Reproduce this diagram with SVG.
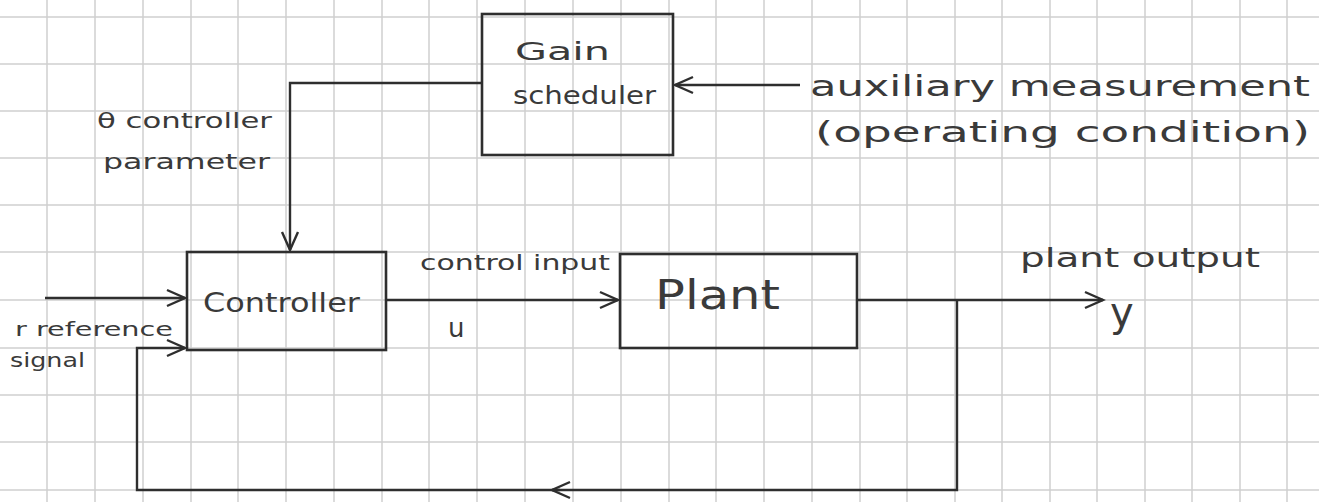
<svg xmlns="http://www.w3.org/2000/svg" width="1319" height="502" viewBox="0 0 1319 502">
<style>
.grid line{stroke:#cfcfcf;stroke-width:1.5}
.box{fill:none;stroke:#2e2e2e;stroke-width:2.6}
.wire{fill:none;stroke:#2e2e2e;stroke-width:2.4}
text{font-family:"DejaVu Sans","Liberation Sans",sans-serif;fill:#3a3a3a}
</style>
<defs>
<marker id="ah" markerUnits="userSpaceOnUse" markerWidth="30" markerHeight="24" refX="20" refY="10" orient="auto">
<path d="M2,2 L20,10 L2,18" fill="none" stroke="#2e2e2e" stroke-width="2.4"/>
</marker>
</defs>
<rect width="1319" height="502" fill="#ffffff"/>
<g class="grid">
<line x1="47" y1="0" x2="47" y2="502"/><line x1="95" y1="0" x2="95" y2="502"/><line x1="143" y1="0" x2="143" y2="502"/><line x1="191" y1="0" x2="191" y2="502"/><line x1="238" y1="0" x2="238" y2="502"/><line x1="286" y1="0" x2="286" y2="502"/><line x1="334" y1="0" x2="334" y2="502"/><line x1="382" y1="0" x2="382" y2="502"/><line x1="429" y1="0" x2="429" y2="502"/><line x1="477" y1="0" x2="477" y2="502"/><line x1="525" y1="0" x2="525" y2="502"/><line x1="573" y1="0" x2="573" y2="502"/><line x1="621" y1="0" x2="621" y2="502"/><line x1="669" y1="0" x2="669" y2="502"/><line x1="716" y1="0" x2="716" y2="502"/><line x1="764" y1="0" x2="764" y2="502"/><line x1="812" y1="0" x2="812" y2="502"/><line x1="860" y1="0" x2="860" y2="502"/><line x1="907" y1="0" x2="907" y2="502"/><line x1="955" y1="0" x2="955" y2="502"/><line x1="1002" y1="0" x2="1002" y2="502"/><line x1="1050" y1="0" x2="1050" y2="502"/><line x1="1097" y1="0" x2="1097" y2="502"/><line x1="1145" y1="0" x2="1145" y2="502"/><line x1="1192" y1="0" x2="1192" y2="502"/><line x1="1240" y1="0" x2="1240" y2="502"/><line x1="1287" y1="0" x2="1287" y2="502"/>
<line x1="0" y1="17" x2="1319" y2="17"/><line x1="0" y1="64" x2="1319" y2="64"/><line x1="0" y1="111" x2="1319" y2="111"/><line x1="0" y1="158" x2="1319" y2="158"/><line x1="0" y1="205" x2="1319" y2="205"/><line x1="0" y1="252" x2="1319" y2="252"/><line x1="0" y1="300" x2="1319" y2="300"/><line x1="0" y1="348" x2="1319" y2="348"/><line x1="0" y1="395" x2="1319" y2="395"/><line x1="0" y1="442" x2="1319" y2="442"/><line x1="0" y1="490" x2="1319" y2="490"/>
</g>
<g id="gain-scheduler">
<rect class="box" x="482" y="14" width="191" height="141"/>
<text x="515" y="60" font-size="24" textLength="95" lengthAdjust="spacingAndGlyphs">Gain</text>
<text x="513" y="104" font-size="24" textLength="143" lengthAdjust="spacingAndGlyphs">scheduler</text>
</g>
<g id="controller">
<rect class="box" x="187" y="252" width="199" height="98"/>
<text x="203" y="312" font-size="26" textLength="157" lengthAdjust="spacingAndGlyphs">Controller</text>
</g>
<g id="plant">
<rect class="box" x="620" y="254" width="237" height="94"/>
<text x="655" y="309" font-size="40" textLength="125" lengthAdjust="spacingAndGlyphs">Plant</text>
</g>
<g id="labels">
<text x="97" y="128" font-size="21" textLength="175" lengthAdjust="spacingAndGlyphs">θ controller</text>
<text x="103" y="169" font-size="21" textLength="167" lengthAdjust="spacingAndGlyphs">parameter</text>
<text x="810" y="96" font-size="28" textLength="500" lengthAdjust="spacingAndGlyphs">auxiliary measurement</text>
<text x="815" y="142" font-size="28" textLength="495" lengthAdjust="spacingAndGlyphs">(operating condition)</text>
<text x="420" y="270" font-size="22" textLength="190" lengthAdjust="spacingAndGlyphs">control input</text>
<text x="448" y="337" font-size="26">u</text>
<text x="1020" y="267" font-size="26" textLength="240" lengthAdjust="spacingAndGlyphs">plant output</text>
<text x="1110" y="326" font-size="40">y</text>
<text x="15" y="336" font-size="20" textLength="158" lengthAdjust="spacingAndGlyphs">r reference</text>
<text x="10" y="367" font-size="20" textLength="75" lengthAdjust="spacingAndGlyphs">signal</text>
</g>
<g id="connectors">
<path class="wire" d="M482,83 L290,83 L290,250" marker-end="url(#ah)"/>
<path class="wire" d="M800,85 L675,85" marker-end="url(#ah)"/>
<path class="wire" d="M45,298 L185,298" marker-end="url(#ah)"/>
<path class="wire" d="M386,300 L618,300" marker-end="url(#ah)"/>
<path class="wire" d="M857,300 L1103,300" marker-end="url(#ah)"/>
<path class="wire" d="M957,300 L957,490 L552,490" marker-end="url(#ah)"/>
<path class="wire" d="M560,490 L137,490 L137,348 L185,348" marker-end="url(#ah)"/>
</g>
</svg>
